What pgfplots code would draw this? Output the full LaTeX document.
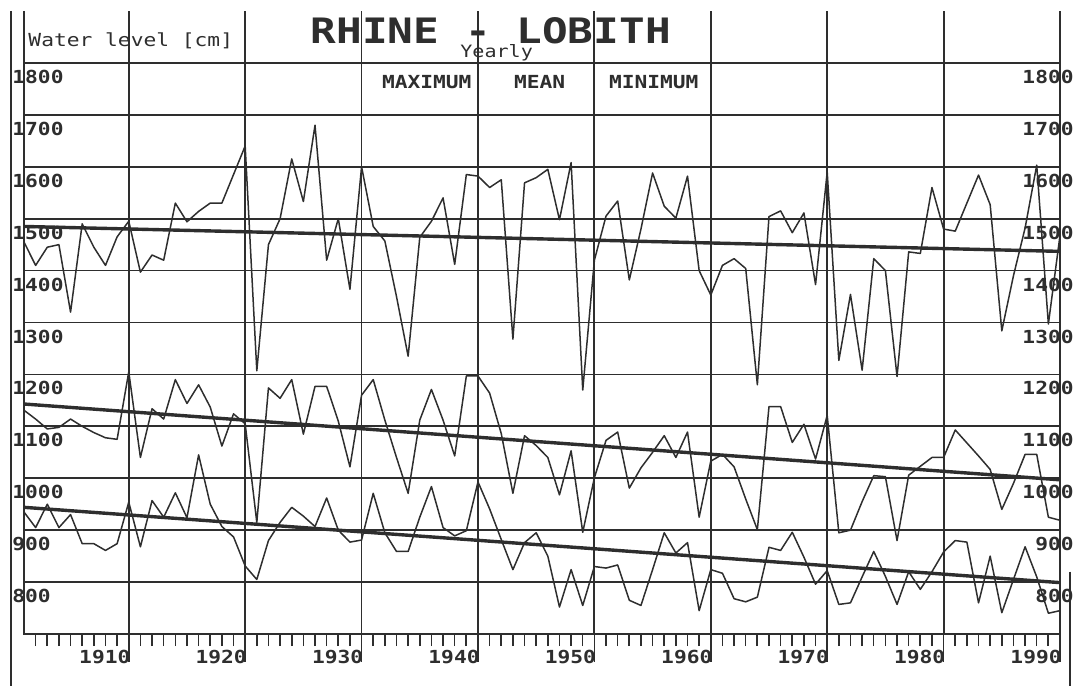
\documentclass[border=0pt]{standalone}
\usepackage{fontspec}
\usepackage{pgfplots}
\usepackage{pgfplotstable}
\pgfplotsset{compat=1.18}
\newfontfamily\pixfont[FakeStretch=1.18]{DejaVu Sans Mono}
\newfontfamily\titlefont[FakeStretch=1.22]{DejaVu Sans Mono}
\definecolor{ink}{gray}{0.18}

% yearly water levels at Lobith [cm]
\pgfplotstableread{
year max mean min
1901 1455 1131 935
1902 1410 1114 905
1903 1445 1095 950
1904 1450 1098 905
1905 1320 1114 930
1906 1490 1100 874
1907 1445 1088 874
1908 1410 1078 861
1909 1465 1075 874
1910 1495 1205 954
1911 1397 1040 868
1912 1430 1134 957
1913 1420 1114 925
1914 1530 1190 972
1915 1494 1144 924
1916 1514 1180 1045
1917 1530 1137 950
1918 1530 1062 907
1919 1585 1124 887
1920 1640 1105 831
1921 1207 915 805
1922 1450 1174 880
1923 1500 1154 915
1924 1615 1190 944
1925 1533 1085 927
1926 1680 1177 907
1927 1420 1177 962
1928 1500 1110 900
1929 1364 1022 877
1930 1600 1160 881
1931 1485 1190 971
1932 1457 1112 895
1933 1350 1040 859
1934 1235 971 859
1935 1464 1112 925
1936 1495 1171 984
1937 1540 1112 905
1938 1412 1043 889
1939 1585 1197 899
1940 1582 1197 993
1941 1560 1164 941
1942 1575 1086 882
1943 1268 971 824
1944 1569 1082 876
1945 1579 1063 895
1946 1595 1040 850
1947 1498 968 752
1948 1608 1053 824
1949 1170 896 755
1950 1420 1001 830
1951 1505 1073 827
1952 1534 1089 833
1953 1382 981 765
1954 1480 1020 755
1955 1588 1050 824
1956 1524 1082 895
1957 1501 1040 856
1958 1582 1089 876
1959 1400 925 745
1960 1353 1033 824
1961 1410 1046 817
1962 1423 1022 768
1963 1404 960 762
1964 1180 901 771
1965 1504 1138 867
1966 1515 1138 861
1967 1473 1069 896
1968 1511 1104 848
1969 1373 1037 796
1970 1590 1121 822
1971 1227 895 757
1972 1354 900 760
1973 1208 955 810
1974 1423 1005 859
1975 1400 1003 811
1976 1196 880 757
1977 1436 1006 820
1978 1433 1023 786
1979 1560 1040 820
1980 1480 1040 858
1981 1476 1093 880
1982 1530 1068 877
1983 1584 1043 760
1984 1527 1017 850
1985 1284 940 741
1986 1390 990 805
1987 1482 1046 868
1988 1603 1046 810
1989 1297 925 740
1990 1468 919 745
}\rhine

% linear trends
\pgfplotstableread{
year max mean min
1901 1485 1143 944
1990 1437 997 799
}\trend

\begin{document}
\begin{tikzpicture}
\path[use as bounding box] (-12pt,-26pt) rectangle (527.5pt,317pt);
\begin{axis}[
    at={(0,0)}, anchor=south west,
    scale only axis,
    width=518pt, height=311.5pt,
    xmin=1901, xmax=1990,
    ymin=700, ymax=1900,
    axis line style={draw=none},
    xtick={1910,1920,...,1990},
    minor xtick={1902,...,1989},
    ytick={800,900,...,1800},
    xticklabels={}, yticklabels={},
    xmajorgrids, ymajorgrids,
    grid style={ink, line width=0.9pt},
    tick align=outside,
    xtick pos=left,
    major tick length=14pt,
    minor tick length=6pt,
    xtick style={ink, line width=0.8pt},
    ytick style={draw=none},
    clip=false,
]
% frame
\draw[ink, line width=0.9pt] (rel axis cs:0,1) -- (rel axis cs:0,0) -- (rel axis cs:1,0) -- (rel axis cs:1,1);
\draw[ink, line width=0.9pt] ([xshift=-6.5pt]rel axis cs:0,1) -- ([xshift=-6.5pt,yshift=-26pt]rel axis cs:0,0);
\draw[ink, line width=0.9pt] ([xshift=5pt]axis cs:1990,820) -- ([xshift=5pt,yshift=-26pt]axis cs:1990,700);

% series
\addplot[ink, line width=0.75pt, line join=round] table[x=year, y=max] {\rhine};
\addplot[ink, line width=0.75pt, line join=round] table[x=year, y=mean] {\rhine};
\addplot[ink, line width=0.75pt, line join=round] table[x=year, y=min] {\rhine};
\addplot[ink, line width=1.7pt] table[x=year, y=max] {\trend};
\addplot[ink, line width=1.7pt] table[x=year, y=mean] {\trend};
\addplot[ink, line width=1.7pt] table[x=year, y=min] {\trend};

% labels
\pgfplotsinvokeforeach{800,900,...,1800}{
  \node[anchor=west, inner sep=0, xshift=-6pt, yshift=-7pt, text=ink,
        font=\pixfont\bfseries\fontsize{9}{9}\selectfont] at (axis cs:1901,#1) {#1};
  \node[anchor=east, inner sep=0, xshift=7pt, yshift=-7pt, text=ink,
        font=\pixfont\bfseries\fontsize{9}{9}\selectfont] at (axis cs:1990,#1) {#1};
}
\pgfplotsinvokeforeach{1910,1920,...,1990}{
  \node[anchor=east, inner sep=0, xshift=1pt, yshift=-11.5pt, text=ink,
        font=\pixfont\bfseries\fontsize{9}{9}\selectfont] at (axis cs:#1,700) {#1};
}
\node[text=ink, inner sep=0, font=\titlefont\bfseries\fontsize{17.5}{17.5}\selectfont]
  at (axis cs:1941.1,1862) {RHINE - LOBITH};
\node[anchor=base, inner sep=0, text=ink, font=\pixfont\fontsize{8.5}{8.5}\selectfont]
  at (axis cs:1941.6,1810) {Yearly};
\node[anchor=base west, inner sep=0, text=ink, font=\pixfont\fontsize{9}{9}\selectfont]
  at (axis cs:1901.35,1831) {Water level [cm]};
\node[anchor=base, inner sep=0, text=ink, font=\pixfont\bfseries\fontsize{9}{9}\selectfont]
  at (axis cs:1935.6,1750) {MAXIMUM};
\node[anchor=base, inner sep=0, text=ink, font=\pixfont\bfseries\fontsize{9}{9}\selectfont]
  at (axis cs:1945.3,1750) {MEAN};
\node[anchor=base, inner sep=0, text=ink, font=\pixfont\bfseries\fontsize{9}{9}\selectfont]
  at (axis cs:1955.1,1750) {MINIMUM};
\end{axis}
\end{tikzpicture}
\end{document}
